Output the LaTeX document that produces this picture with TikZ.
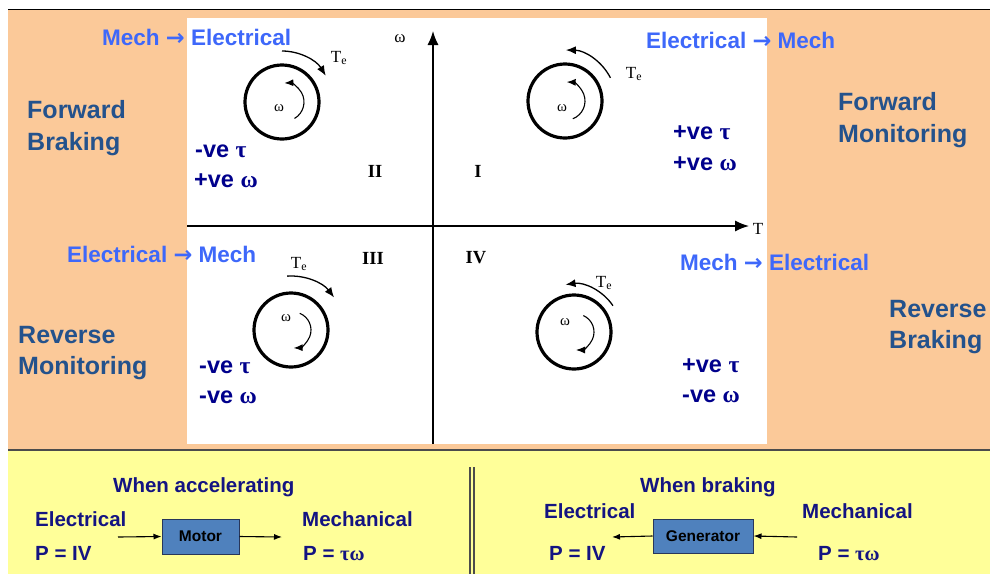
\documentclass[tikz,border=0pt]{standalone}
\usepackage{fontspec}
\setmainfont{Liberation Sans}
\newfontfamily\grk{Liberation Serif}
\newfontfamily\arr{DejaVu Sans}
\usetikzlibrary{arrows.meta,calc}
\definecolor{peach}{RGB}{251,201,153}
\definecolor{paleyellow}{RGB}{255,255,153}
\definecolor{flowblue}{RGB}{62,104,250}
\definecolor{modeblue}{RGB}{36,82,140}
\definecolor{signnavy}{RGB}{0,0,140}
\definecolor{botnavy}{RGB}{20,20,130}
\definecolor{boxblue}{RGB}{79,129,189}
\definecolor{boxedge}{RGB}{40,55,90}
\begin{document}
\begin{tikzpicture}[x=1pt,y=-1pt,
  txt/.style={inner sep=0pt,anchor=base west},
  flow/.style={txt,text=flowblue,font=\fontsize{22.5}{26}\selectfont\bfseries},
  mode/.style={txt,text=modeblue,font=\fontsize{25}{30}\selectfont\bfseries},
  sign/.style={txt,text=signnavy,font=\fontsize{23.5}{28}\selectfont\bfseries},
  bot/.style={txt,text=botnavy,font=\fontsize{20.5}{24}\selectfont\bfseries},
  roman/.style={inner sep=0pt,font=\grk\fontsize{18.5}{20}\selectfont\bfseries},
  lbl/.style={inner sep=0pt,font=\grk\fontsize{17}{19}\selectfont},
  wlbl/.style={inner sep=0pt,font=\grk\fontsize{15}{17}\selectfont},
  axlbl/.style={inner sep=0pt,font=\grk\fontsize{17}{19}\selectfont},
  rotor/.style={circle,draw=black,line width=3.2pt,minimum size=74pt,inner sep=0pt},
  axis/.style={line width=1.4pt,-{Latex[length=14pt,width=11pt]}},
  tearc/.style={line width=1.3pt,-{Latex[length=10pt,width=8pt]}},
  warc/.style={line width=1.1pt,-{Latex[length=9pt,width=7pt]}},
  conn/.style={line width=1.1pt,-{Latex[length=8pt,width=6pt]}},
  gbox/.style={draw=boxedge,line width=1pt,fill=boxblue,inner sep=0pt,font=\fontsize{15.5}{18}\selectfont\bfseries}]
\useasboundingbox (0,0) rectangle (990,574);
% backgrounds
\fill[peach] (8,10) rectangle (990,449);
\draw[line width=1.3pt] (8,9.5) -- (990,9.5);
\fill[paleyellow] (8,450) rectangle (990,574);
\draw[line width=2pt,black!70] (8,449.5) -- (990,449.5);
\fill[white] (187,18) rectangle (767,444);
% axes
\coordinate (ybot) at (433,444);
\coordinate (ytop) at (433,31);
\coordinate (xl) at (187,226);
\coordinate (xr) at (749,226);
\draw[axis] (ybot) -- (ytop);
\draw[axis] (xl) -- (xr);
\node[axlbl] (wax) at (400,39) {ω};
\node[axlbl] (tax) at (758,229) {T};
% quadrant numerals
\node[roman] (q2) at (375,171) {II};
\node[roman] (q1) at (478,171) {I};
\node[roman] (q3) at (373,258) {III};
\node[roman] (q4) at (476,258) {IV};
% rotors
\node[rotor] (c2) at (282,102) {};
\node[rotor] (c1) at (565,101) {};
\node[rotor] (c3) at (291,330) {};
\node[rotor] (c4) at (574,332) {};
% Te arcs
\draw[tearc] ($(c2)+(-90:51)$) arc[start angle=-90,end angle=-31,radius=51];
\draw[tearc] ($(c1)+(-27:51)$) arc[start angle=-27,end angle=-89,radius=51];
\draw[tearc] ($(c3)+(-94:54)$) arc[start angle=-94,end angle=-37,radius=54];
\draw[tearc] ($(c4)+(-34:47)$) arc[start angle=-34,end angle=-98,radius=49];
\node[lbl] (te2) at (339,58) {T\textsubscript{e}};
\node[lbl] (te1) at (634,74) {T\textsubscript{e}};
\node[lbl] (te3) at (299,264) {T\textsubscript{e}};
\node[lbl] (te4) at (604,283) {T\textsubscript{e}};
% omega arcs
\draw[warc] ($(c2)+(3,0)+(60:19)$) arc[start angle=60,end angle=-92,radius=19];
\draw[warc] ($(c1)+(1,0)+(69:19)$) arc[start angle=69,end angle=-88,radius=19];
\draw[warc] ($(c3)+(2,0)+(-68:18)$) arc[start angle=-68,end angle=88,radius=18];
\draw[warc] ($(c4)+(2,0)+(-66:18)$) arc[start angle=-66,end angle=90,radius=18];
\node[wlbl] (w2) at (279,108) {ω};
\node[wlbl] (w1) at (562,108) {ω};
\node[wlbl] (w3) at (286,318) {ω};
\node[wlbl] (w4) at (565,322) {ω};
% flow labels
\node[flow] (f2) at (102,45) {Mech {\arr\bfseries →} Electrical};
\node[flow] (f1) at (646,48) {Electrical {\arr\bfseries →} Mech};
\node[flow] (f3) at (67,262) {Electrical {\arr\bfseries →} Mech};
\node[flow] (f4) at (680,270) {Mech {\arr\bfseries →} Electrical};
% mode labels
\node[mode] (m2a) at (27,118) {Forward};
\node[mode] (m2b) at (27,150) {Braking};
\node[mode] (m1a) at (838,110) {Forward};
\node[mode] (m1b) at (838,142) {Monitoring};
\node[mode] (m3a) at (18,343) {Reverse};
\node[mode] (m3b) at (18,374) {Monitoring};
\node[mode] (m4a) at (889,317) {Reverse};
\node[mode] (m4b) at (889,348) {Braking};
% sign labels
\node[sign] (s2a) at (195,157) {-ve {\grk τ}};
\node[sign] (s2b) at (194,187) {+ve {\grk ω}};
\node[sign] (s1a) at (673,139) {+ve {\grk τ}};
\node[sign] (s1b) at (673,170) {+ve {\grk ω}};
\node[sign] (s3a) at (199,373) {-ve {\grk τ}};
\node[sign] (s3b) at (199,403) {-ve {\grk ω}};
\node[sign] (s4a) at (682,372) {+ve {\grk τ}};
\node[sign] (s4b) at (682,402) {-ve {\grk ω}};
% bottom panel
\draw[line width=1.5pt,black!70] (470,467) -- (470,574);
\draw[line width=1.5pt,black!70] (474,467) -- (474,574);
\node[bot] (acc) at (113,492) {When accelerating};
\node[bot] (el1) at (35,526) {Electrical};
\node[bot] (pe1) at (35,560) {P = IV};
\node[bot] (me1) at (302,526) {Mechanical};
\node[bot] (pm1) at (303,560) {P = {\grk τω}};
\node[gbox,minimum width=77pt,minimum height=35pt] (motor) at (200.5,536.5) {Motor};
\coordinate (min) at (118,537);
\coordinate (mout) at (282,537);
\draw[conn] (min) -- (motor.west);
\draw[conn] (motor.east) -- (mout);
\node[bot] (brk) at (640,492) {When braking};
\node[bot] (el2) at (544,518) {Electrical};
\node[bot] (pe2) at (549,560) {P = IV};
\node[bot] (me2) at (802,518) {Mechanical};
\node[bot] (pm2) at (818,560) {P = {\grk τω}};
\node[gbox,minimum width=100pt,minimum height=34pt] (gen) at (703,536) {Generator};
\coordinate (gout) at (612,537);
\coordinate (gin) at (797,537);
\draw[conn] (gen.west) -- (gout);
\draw[conn] (gin) -- (gen.east);
\end{tikzpicture}
\end{document}
